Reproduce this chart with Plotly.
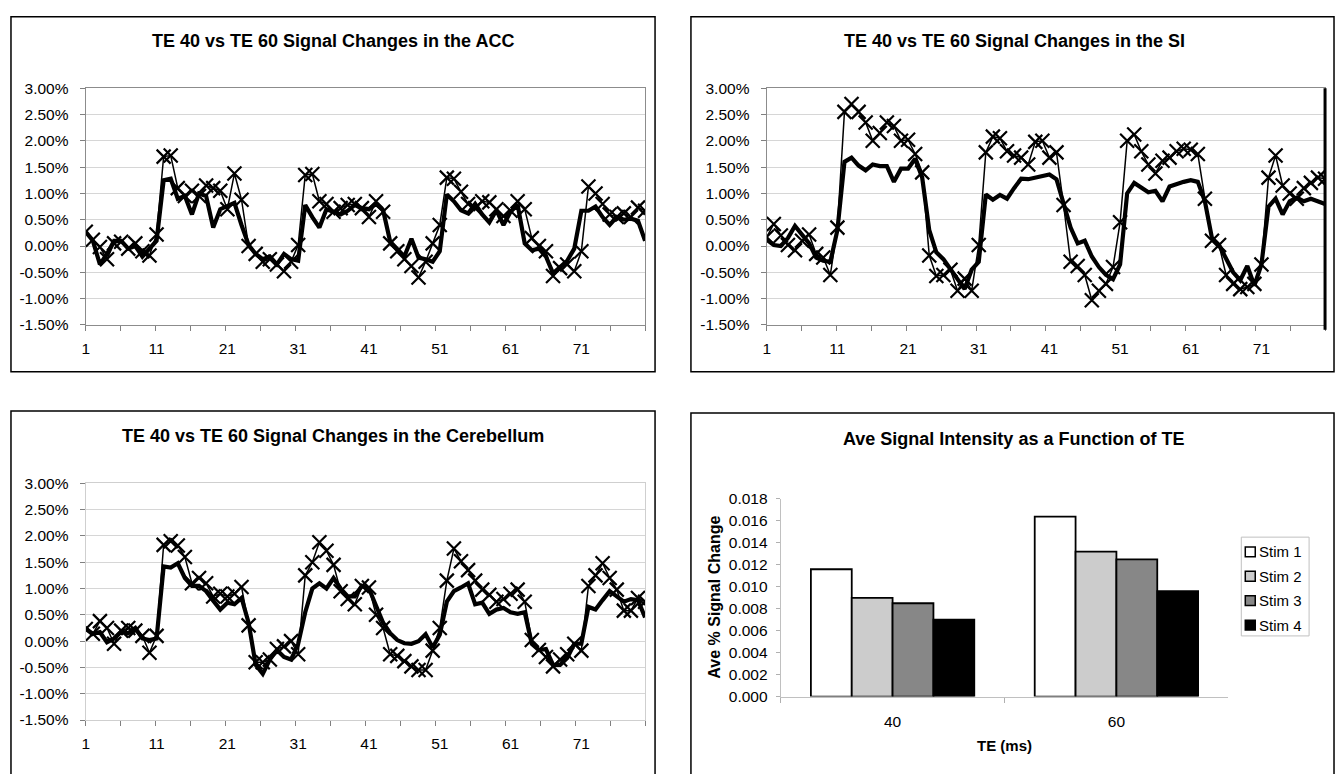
import plotly.graph_objects as go

W, H = 1339, 774
FONT = "Liberation Sans, Arial, sans-serif"

# ---------------- data ----------------
time_points = list(range(1, 81))

acc_te40 = [0.27, 0.10, -0.35, -0.15, 0.10, 0.10, -0.05, 0.00, -0.20, -0.05,
            0.10, 1.25, 1.28, 0.90, 0.95, 0.60, 1.00, 0.95, 0.35, 0.70,
            0.75, 0.82, 0.40, 0.02, -0.15, -0.25, -0.20, -0.35, -0.15, -0.25,
            -0.28, 0.78, 0.55, 0.35, 0.70, 0.65, 0.60, 0.67, 0.78, 0.72,
            0.70, 0.80, 0.68, 0.08, -0.05, -0.20, 0.14, -0.22, -0.25, -0.30,
            -0.10, 0.98, 0.85, 0.68, 0.62, 0.80, 0.60, 0.45, 0.68, 0.40,
            0.65, 0.78, 0.05, -0.08, -0.05, -0.20, -0.52, -0.40, -0.28, -0.05,
            0.67, 0.67, 0.75, 0.55, 0.40, 0.55, 0.50, 0.52, 0.48, 0.10]
acc_te60 = [0.27, 0.12, -0.02, -0.25, 0.05, 0.08, -0.05, 0.05, -0.10, -0.18,
            0.22, 1.70, 1.72, 1.10, 0.95, 1.05, 0.95, 1.15, 1.10, 1.05,
            0.70, 1.38, 0.88, 0.00, -0.15, -0.30, -0.25, -0.35, -0.48, -0.30,
            0.02, 1.35, 1.37, 0.85, 0.80, 0.65, 0.72, 0.78, 0.80, 0.72,
            0.55, 0.85, 0.65, 0.05, -0.10, -0.25, -0.38, -0.60, -0.30, 0.05,
            0.40, 1.30, 1.28, 1.03, 0.80, 0.72, 0.85, 0.83, 0.70, 0.57,
            0.67, 0.85, 0.70, 0.15, 0.00, -0.10, -0.57, -0.42, -0.35, -0.48,
            -0.10, 1.13, 1.00, 0.80, 0.60, 0.55, 0.62, 0.55, 0.73, 0.67]

si_te40 = [0.12, 0.02, 0.00, 0.15, 0.38, 0.20, 0.05, -0.22, -0.28, -0.30,
           0.30, 1.60, 1.68, 1.53, 1.44, 1.55, 1.52, 1.52, 1.22, 1.47,
           1.47, 1.66, 1.30, 0.30, -0.12, -0.25, -0.45, -0.65, -0.82, -0.45,
           -0.30, 0.98, 0.88, 0.97, 0.90, 1.10, 1.28, 1.27, 1.30, 1.32,
           1.36, 1.27, 0.80, 0.35, 0.05, 0.10, -0.20, -0.40, -0.55, -0.63,
           -0.35, 1.00, 1.20, 1.10, 1.02, 1.05, 0.85, 1.13, 1.18, 1.22,
           1.25, 1.22, 0.85, 0.15, 0.02, -0.25, -0.50, -0.65, -0.38, -0.75,
           -0.35, 0.75, 0.90, 0.60, 0.85, 0.92, 0.85, 0.90, 0.85, 0.80]
si_te60 = [0.17, 0.42, 0.20, 0.02, -0.08, 0.10, 0.22, -0.15, -0.22, -0.55,
           0.35, 2.55, 2.70, 2.55, 2.35, 2.00, 2.15, 2.35, 2.28, 2.00,
           2.02, 1.75, 1.40, -0.18, -0.57, -0.55, -0.45, -0.85, -0.62, -0.85,
           0.02, 1.78, 2.08, 2.05, 1.80, 1.72, 1.68, 1.55, 1.98, 2.00,
           1.68, 1.78, 0.78, -0.30, -0.38, -0.55, -1.03, -0.85, -0.72, -0.40,
           0.45, 2.00, 2.12, 1.80, 1.55, 1.38, 1.62, 1.68, 1.80, 1.85,
           1.83, 1.75, 0.90, 0.10, 0.02, -0.55, -0.72, -0.82, -0.78, -0.72,
           -0.35, 1.30, 1.72, 1.15, 1.00, 0.90, 1.10, 1.20, 1.30, 1.28]

cb_te40 = [0.23, 0.14, 0.17, -0.02, 0.05, 0.18, 0.15, 0.25, 0.05, 0.02,
           0.05, 1.42, 1.40, 1.48, 1.20, 1.05, 1.05, 0.95, 0.77, 0.60,
           0.73, 0.70, 0.82, 0.35, -0.45, -0.62, -0.35, -0.17, -0.30, -0.35,
           -0.05, 0.55, 1.00, 1.10, 1.00, 1.20, 1.00, 0.85, 0.85, 1.05,
           1.00, 0.65, 0.35, 0.15, 0.02, -0.04, -0.05, 0.00, 0.13, -0.12,
           0.12, 0.75, 0.95, 1.02, 1.10, 0.70, 0.73, 0.52, 0.60, 0.63,
           0.55, 0.52, 0.55, -0.05, -0.17, -0.15, -0.45, -0.45, -0.32, -0.05,
           -0.05, 0.65, 0.60, 0.78, 0.95, 0.85, 0.75, 0.80, 0.78, 0.45]
cb_te60 = [0.23, 0.14, 0.38, 0.25, -0.05, 0.20, 0.25, 0.20, 0.10, -0.22,
           0.10, 1.83, 1.90, 1.82, 1.60, 1.10, 1.20, 1.10, 0.85, 0.90,
           0.85, 0.90, 1.03, 0.30, -0.40, -0.40, -0.35, -0.15, -0.10, 0.00,
           -0.25, 1.25, 1.50, 1.88, 1.72, 1.45, 0.95, 0.80, 0.70, 1.05,
           1.02, 0.50, 0.25, -0.25, -0.28, -0.38, -0.48, -0.55, -0.55, -0.18,
           0.25, 1.15, 1.76, 1.52, 1.35, 1.15, 0.98, 0.88, 0.75, 0.80,
           0.90, 0.98, 0.75, 0.02, -0.17, -0.30, -0.48, -0.35, -0.25, -0.05,
           -0.18, 1.05, 1.25, 1.48, 1.20, 0.98, 0.58, 0.58, 0.82, 0.75]

pct_ticks = [-1.5, -1.0, -0.5, 0.0, 0.5, 1.0, 1.5, 2.0, 2.5, 3.0]
pct_labels = ["-1.50%", "-1.00%", "-0.50%", "0.00%", "0.50%", "1.00%",
              "1.50%", "2.00%", "2.50%", "3.00%"]
time_ticks = [1, 11, 21, 31, 41, 51, 61, 71]

te_categories = ["40", "60"]
stim_names = ["Stim 1", "Stim 2", "Stim 3", "Stim 4"]
stim1 = [0.0116, 0.0164]
stim2 = [0.0090, 0.0132]
stim3 = [0.0085, 0.0125]
stim4 = [0.0070, 0.0096]
stim_colors = ["#ffffff", "#cccccc", "#878787", "#000000"]

# ---------------- figure ----------------
fig = go.Figure()


def px_x(p):
    return p / W


def px_y(p):
    return 1 - p / H


panels = [("", "TE 40 vs TE 60 Signal Changes in the ACC", acc_te40, acc_te60),
          ("2", "TE 40 vs TE 60 Signal Changes in the SI", si_te40, si_te60),
          ("3", "TE 40 vs TE 60 Signal Changes in the Cerebellum", cb_te40, cb_te60)]

for suf, _, thick, cross in panels:
    fig.add_trace(go.Scatter(x=time_points, y=thick, mode="lines",
                             line=dict(color="black", width=4.2),
                             xaxis="x" + suf, yaxis="y" + suf, showlegend=False,
                             name="TE 40"))
    fig.add_trace(go.Scatter(x=time_points, y=cross, mode="lines+markers",
                             line=dict(color="black", width=1.5),
                             marker=dict(symbol="x-thin", size=14,
                                         line=dict(color="black", width=2.2)),
                             xaxis="x" + suf, yaxis="y" + suf, showlegend=False,
                             name="TE 60"))

for name, vals, col in zip(stim_names, [stim1, stim2, stim3, stim4], stim_colors):
    fig.add_trace(go.Bar(x=te_categories, y=vals, name=name,
                         marker=dict(color=col, line=dict(color="black", width=1.8)),
                         xaxis="x4", yaxis="y4", showlegend=False))

minor_ticks = [1 + 79 * k / 16 for k in range(17)]


def line_xaxis(dom, ycode, linecol):
    return dict(domain=dom, anchor=ycode, range=[1, 80],
                tickmode="array", tickvals=time_ticks,
                ticktext=[str(t) for t in time_ticks], ticks="",
                minor=dict(tickmode="array", tickvals=minor_ticks, ticks="outside",
                           ticklen=5, tickcolor="#808080", showgrid=False),
                showgrid=False, zeroline=False, showline=True, linecolor=linecol,
                linewidth=1.3, mirror=True, ticklabelstandoff=9,
                tickfont=dict(size=15.5, family=FONT, color="black"))


def line_yaxis(dom, xcode, linecol):
    return dict(domain=dom, anchor=xcode, range=[-1.5, 3.0],
                tickmode="array", tickvals=pct_ticks, ticktext=pct_labels,
                ticks="outside", ticklen=5, tickcolor="#808080",
                showgrid=True, gridcolor="#d6d6d6", gridwidth=1, zeroline=False,
                showline=True, linecolor=linecol, linewidth=1.3, mirror=True,
                ticklabelstandoff=8,
                tickfont=dict(size=15.5, family=FONT, color="black"))


fig.update_layout(
    width=W, height=H,
    margin=dict(l=0, r=0, t=0, b=0),
    paper_bgcolor="white", plot_bgcolor="white",
    font=dict(family=FONT, color="black"),
    showlegend=False,
    xaxis=line_xaxis([px_x(82), px_x(643)], "y", "#8c8c8c"),
    yaxis=line_yaxis([px_y(323), px_y(81)], "x", "#8c8c8c"),
    xaxis2=line_xaxis([px_x(765), px_x(1325)], "y2", "#8c8c8c"),
    yaxis2=line_yaxis([px_y(323), px_y(81)], "x2", "#8c8c8c"),
    xaxis3=line_xaxis([px_x(82), px_x(643)], "y3", "#cfcfcf"),
    yaxis3=line_yaxis([px_y(727), px_y(485)], "x3", "#cfcfcf"),
    xaxis4=dict(domain=[px_x(779), px_x(1228)], anchor="y4", type="category",
                ticks="outside", tickson="boundaries", ticklen=5,
                tickcolor="#b0b0b0", showline=True, linecolor="#c0c0c0",
                showgrid=False, zeroline=False, ticklabelstandoff=11,
                tickfont=dict(size=15.5, family=FONT, color="black")),
    yaxis4=dict(domain=[px_y(703), px_y(501)], anchor="x4", range=[0, 0.018],
                tickmode="linear", tick0=0, dtick=0.002, tickformat=".3f",
                ticks="outside", ticklen=4, tickcolor="#b0b0b0",
                showline=True, linecolor="#c0c0c0", showgrid=False,
                zeroline=False, ticklabelstandoff=5,
                tickfont=dict(size=15.5, family=FONT, color="black")),
    barmode="group", bargap=0.27, bargroupgap=0,
)

# panel frames
frames = [(7, 8, 653, 371), (689, 8, 1334, 371), (7, 411, 653, 790), (689, 413, 1334, 790)]
shapes = []
for x0, y0, x1, y1 in frames:
    shapes.append(dict(type="rect", xref="paper", yref="paper",
                       x0=px_x(x0), x1=px_x(x1), y0=px_y(y1), y1=px_y(y0),
                       line=dict(color="black", width=1.5), fillcolor="rgba(0,0,0,0)"))
shapes.append(dict(type="line", xref="paper", yref="paper",
                   x0=px_x(1325), x1=px_x(1325), y0=px_y(328), y1=px_y(81),
                   line=dict(color="black", width=3)))

# legend for the bar chart (box, swatches, labels)
leg_x0, leg_y0, leg_x1, leg_y1 = 1241, 540, 1309, 641
shapes.append(dict(type="rect", xref="paper", yref="paper",
                   x0=px_x(leg_x0), x1=px_x(leg_x1), y0=px_y(leg_y1), y1=px_y(leg_y0),
                   line=dict(color="#c0c0c0", width=1), fillcolor="white"))
leg_rows = [555, 580, 605, 630]
annotations = []
for row_y, name, col in zip(leg_rows, stim_names, stim_colors):
    shapes.append(dict(type="rect", xref="paper", yref="paper",
                       x0=px_x(1245), x1=px_x(1255), y0=px_y(row_y + 5), y1=px_y(row_y - 5),
                       line=dict(color="black", width=1.5), fillcolor=col))
    annotations.append(dict(text=name, x=px_x(1257), y=px_y(row_y), xref="paper",
                            yref="paper", showarrow=False, xanchor="left",
                            yanchor="middle",
                            font=dict(size=15, family=FONT, color="black")))
fig.update_layout(shapes=shapes)

titles = [
    dict(text="<b>TE 40 vs TE 60 Signal Changes in the ACC</b>", x=px_x(330), y=px_y(33)),
    dict(text="<b>TE 40 vs TE 60 Signal Changes in the SI</b>", x=px_x(1014), y=px_y(33)),
    dict(text="<b>TE 40 vs TE 60 Signal Changes in the Cerebellum</b>", x=px_x(330), y=px_y(437)),
    dict(text="<b>Ave Signal Intensity as a Function of TE</b>", x=px_x(1013), y=px_y(440)),
]
for a in titles:
    a.update(xref="paper", yref="paper", showarrow=False, xanchor="center",
             yanchor="middle", font=dict(size=18, family=FONT, color="black"))
annotations.extend(titles)
annotations.append(dict(text="<b>TE (ms)</b>", x=px_x(1003), y=px_y(753), xref="paper",
                        yref="paper", showarrow=False, xanchor="center", yanchor="middle",
                        font=dict(size=15, family=FONT, color="black")))
annotations.append(dict(text="<b>Ave % Signal Change</b>", x=px_x(713), y=px_y(601),
                        xref="paper", yref="paper", showarrow=False, textangle=-90,
                        xanchor="center", yanchor="middle",
                        font=dict(size=16, family=FONT, color="black")))
fig.update_layout(annotations=annotations)

fig.write_html("out.html")
